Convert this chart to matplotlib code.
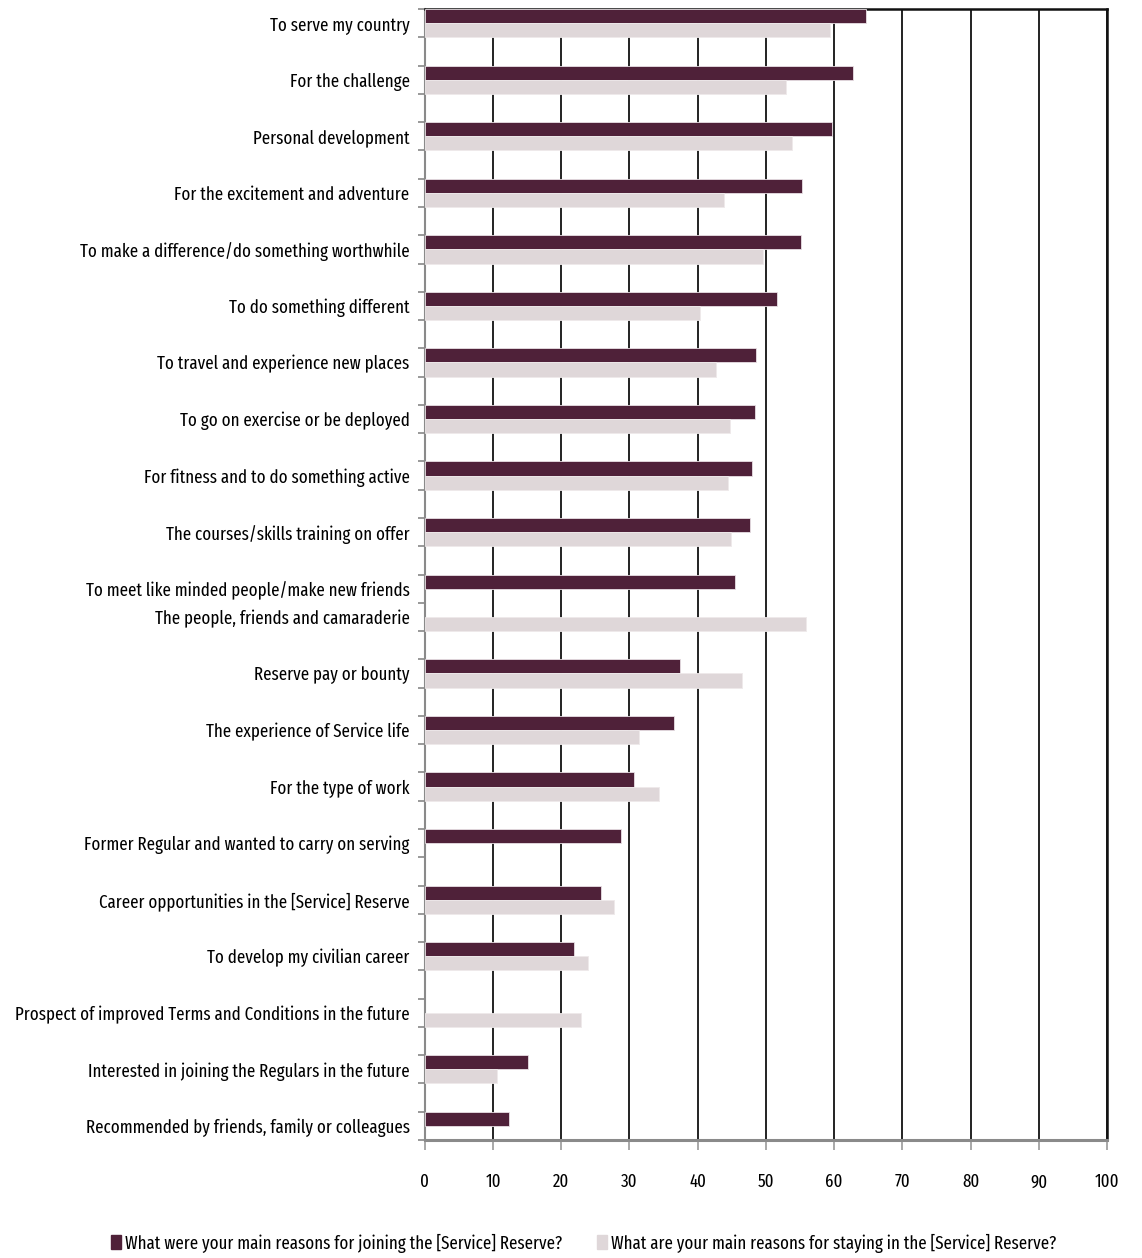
import matplotlib
matplotlib.use("Agg")
import matplotlib.pyplot as plt
from matplotlib.patches import Patch

# narrow fonts first; missing ones are skipped
plt.rcParams["font.family"] = ["Fira Sans Extra Condensed", "Roboto Condensed",
                               "Archivo Narrow", "Barlow Condensed", "DejaVu Sans"]

labels = [
    "To serve my country",
    "For the challenge",
    "Personal development",
    "For the excitement and adventure",
    "To make a difference/do something worthwhile",
    "To do something different",
    "To travel and experience new places",
    "To go on exercise or be deployed",
    "For fitness and to do something active",
    "The courses/skills training on offer",
    "To meet like minded people/make new friends",
    "The people, friends and camaraderie",
    "Reserve pay or bounty",
    "The experience of Service life",
    "For the type of work",
    "Former Regular and wanted to carry on serving",
    "Career opportunities in the [Service] Reserve",
    "To develop my civilian career",
    "Prospect of improved Terms and Conditions in the future",
    "Interested in joining the Regulars in the future",
    "Recommended by friends, family or colleagues",
]
joining = [64.7, 62.8, 59.7, 55.3, 55.1, 51.6, 48.5, 48.4, 47.9, 47.7,
           45.5, None, 37.4, 36.5, 30.6, 28.7, 25.8, 21.8, None, 15.1, 12.3]
staying = [59.4, 52.9, 53.8, 43.8, 49.6, 40.3, 42.7, 44.7, 44.4, 44.9,
           None, 55.9, 46.5, 31.4, 34.3, None, 27.7, 23.9, 22.9, 10.6, None]
legend_labels = ["What were your main reasons for joining the [Service] Reserve?",
                 "What are your main reasons for staying in the [Service] Reserve?"]
# rows that share their block with the next row (no blank row after them)
no_gap_after = {"To meet like minded people/make new friends"}

dark = "#4f2139"
light = "#dfd7d9"

# slot of each category in the Excel-style table (blank rows between)
slots = []
s = 0
for lab in labels:
    slots.append(s)
    s += 1 if lab in no_gap_after else 2
nslots = s - 1

fig = plt.figure(figsize=(11.42, 12.58), dpi=100)

# size the font so the longest label is as wide as in the original (~393 px)
renderer = fig.canvas.get_renderer()
longest = max(labels, key=len)
probe = fig.text(0, 0, longest, fontsize=20)
w = probe.get_window_extent(renderer).width
probe.remove()
fs = min(20 * 393 / w, 19)

ax = fig.add_axes([0.372, 0.0938, 0.5974, 0.899])

for sl, j, st in zip(slots, joining, staying):
    if j is not None:
        ax.barh(sl + 0.25, j, height=0.5, color=dark, edgecolor="#e8e0e4", linewidth=0.6, zorder=3)
    if st is not None:
        ax.barh(sl + 0.75, st, height=0.5, color=light, edgecolor="#eee9ea", linewidth=0.6, zorder=3)

ax.set_xlim(0, 100)
ax.set_ylim(nslots, 0)
ax.set_xticks(range(0, 101, 10))
ax.xaxis.grid(True, color="#111111", linewidth=1.3, zorder=1)
ax.set_axisbelow(True)

ax.set_yticks([sl + 0.5 for sl in slots])
ax.set_yticklabels(labels, fontsize=fs)
ax.set_yticks(range(0, nslots + 1), minor=True)
ax.tick_params(axis="y", which="major", length=0, pad=11)
ax.tick_params(axis="y", which="minor", length=5, color="#888888", width=1.2)
ax.tick_params(axis="x", length=7, color="#999999", width=1.2, pad=17, labelsize=fs)

for side in ["left", "bottom"]:
    ax.spines[side].set_color("#8a8a8a")
ax.spines["left"].set_linewidth(1.5)
ax.spines["bottom"].set_linewidth(2.2)
ax.spines["top"].set_color("#111111")
ax.spines["top"].set_linewidth(1.8)
ax.spines["right"].set_color("#111111")
ax.spines["right"].set_linewidth(1.8)

handles = [Patch(color=dark), Patch(color=light)]
fig.legend(handles, legend_labels,
           loc="lower center", bbox_to_anchor=(0.511, -0.009), ncol=2, frameon=False,
           fontsize=fs, handlelength=0.55, handleheight=0.8, handletextpad=0.2,
           columnspacing=1.9)

fig.savefig("out.png", dpi=100)
